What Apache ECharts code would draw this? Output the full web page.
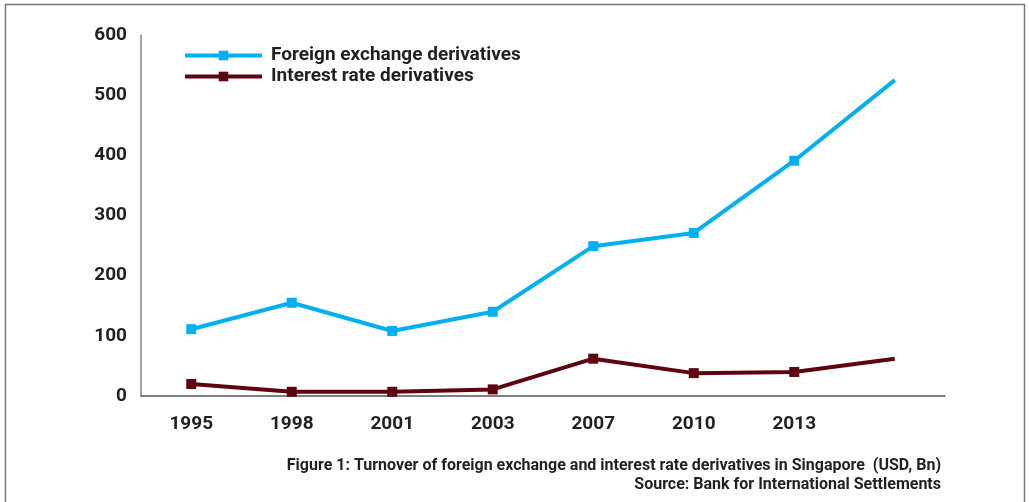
<!DOCTYPE html>
<html>
<head>
<meta charset="utf-8">
<script src="https://cdn.jsdelivr.net/npm/echarts@6/dist/echarts.min.js"></script>
<style>
html,body{margin:0;padding:0;background:#fff;}
#c{width:1029px;height:502px;}
</style>
</head>
<body>
<div id="c"></div>
<script>
const categories = ['1995','1998','2001','2003','2007','2010','2013',''];
const fxValues = [111, 155, 108, 140, 249, 271, 391, 525];
const irValues = [20, 7, 7, 11, 62, 38, 40, 62];
const yTicks = [0, 100, 200, 300, 400, 500, 600];
const seriesNames = ['Foreign exchange derivatives', 'Interest rate derivatives'];
const captionLines = ['Figure 1: Turnover of foreign exchange and interest rate derivatives in Singapore  (USD, Bn)', 'Source: Bank for International Settlements'];

const FONT = 'Roboto';
const TXT = '#231f20';
function withLastNoSymbol(arr){
  return arr.map((v,i)=> i===arr.length-1 ? {value:v, symbol:'none'} : v);
}
const chart = echarts.init(document.getElementById('c'));
chart.setOption({
  animation:false,
  backgroundColor:'#fff',
  textStyle:{fontFamily:FONT},
  grid:{left:141,right:84,top:35,bottom:106},
  legend:{
    orient:'vertical',left:183,top:46,padding:0,itemWidth:77,itemHeight:12,itemGap:2,
    lineStyle:{width:4},
    textStyle:{fontFamily:FONT,fontWeight:'bold',fontSize:19,color:TXT,padding:[0,0,0,4]},
    data:seriesNames
  },
  xAxis:{
    type:'category',data:categories,boundaryGap:true,
    axisLine:{lineStyle:{color:'#555',width:1.5}},
    axisTick:{show:false},
    axisLabel:{margin:19,fontFamily:FONT,fontWeight:'bold',fontSize:19,color:TXT}
  },
  yAxis:{
    type:'value',min:yTicks[0],max:yTicks[yTicks.length-1],interval:100,
    axisLine:{show:true,lineStyle:{color:'#888',width:1.5}},
    axisTick:{show:false},
    splitLine:{show:false},
    axisLabel:{margin:14,fontFamily:FONT,fontWeight:'bold',fontSize:19,color:TXT}
  },
  series:[
    {name:seriesNames[0],type:'line',data:withLastNoSymbol(fxValues),symbol:'rect',symbolSize:10,
     lineStyle:{width:4,color:'#00b0f0'},itemStyle:{color:'#00b0f0'}},
    {name:seriesNames[1],type:'line',data:withLastNoSymbol(irValues),symbol:'rect',symbolSize:10,
     lineStyle:{width:4,color:'#5c0510'},itemStyle:{color:'#5c0510'}}
  ],
  graphic:[
    {type:'rect',shape:{x:5.5,y:4.5,width:1019,height:520},style:{fill:'none',stroke:'#777',lineWidth:1.5},silent:true},
    {type:'text',right:88,top:458,style:{text:captionLines[0],font:'bold 16px Roboto',fill:TXT,textAlign:'right'}},
    {type:'text',right:88,top:477,style:{text:captionLines[1],font:'bold 16px Roboto',fill:TXT,textAlign:'right'}}
  ]
});
</script>
</body>
</html>
